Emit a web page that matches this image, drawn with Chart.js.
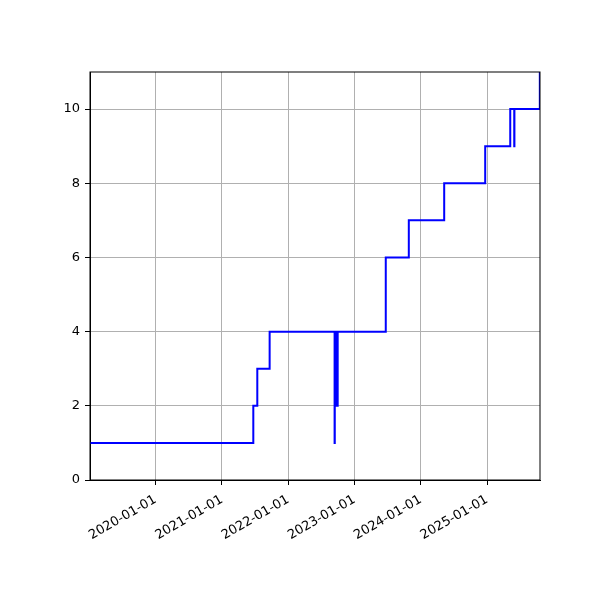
<!DOCTYPE html>
<html>
<head>
<meta charset="utf-8">
<script src="https://cdn.jsdelivr.net/npm/chart.js@4"></script>
<style>
  html, body { margin: 0; padding: 0; background: #fff; }
  #wrap { width: 600px; height: 600px; }
</style>
</head>
<body>
<div id="wrap"><canvas id="chart" width="600" height="600"></canvas></div>
<script>
// step data: date when the value starts, and the value
const stepDates = [
  "2019-01-05", "2021-06-23", "2021-07-15", "2021-09-21",
  "2022-09-14", "2022-09-15", "2022-09-17", "2022-09-19", "2022-09-21",
  "2022-09-23", "2022-09-25", "2022-09-27", "2022-09-29", "2022-10-01",
  "2023-06-23", "2023-10-28", "2024-05-10", "2024-12-22",
  "2025-05-09", "2025-05-31", "2025-06-01", "2025-10-19", "2025-10-20"
];
const stepValues = [
  1, 2, 3, 4,
  1, 4, 2, 4, 2,
  4, 2, 4, 2, 4,
  6, 7, 8, 9,
  10, 9, 10, 11, 11
];
const xTickLabels = ["2020-01-01", "2021-01-01", "2022-01-01", "2023-01-01", "2024-01-01", "2025-01-01"];
const yTickValues = [0, 2, 4, 6, 8, 10];
const xStart = "2019-01-05";
const xEnd = "2025-10-20";

const toMs = (d) => Date.parse(d + "T00:00:00Z");
const points = stepDates.map((d, i) => ({ x: toMs(d), y: stepValues[i] }));

const fmt = (v) => new Date(v).toISOString().slice(0, 10);

// full box around plot area, like matplotlib spines
const boxPlugin = {
  id: "box",
  afterDraw(chart) {
    const { ctx, chartArea: a } = chart;
    ctx.save();
    ctx.strokeStyle = "#000";
    ctx.lineWidth = 1;
    ctx.strokeRect(a.left, a.top, a.right - a.left, a.bottom - a.top);
    ctx.restore();
  },
};

const font = { family: "DejaVu Sans", size: 13 };

new Chart(document.getElementById("chart"), {
  type: "line",
  data: {
    datasets: [{
      data: points,
      borderColor: "#0000ff",
      borderWidth: 2,
      pointRadius: 0,
      stepped: true,
      fill: false,
    }],
  },
  options: {
    responsive: false,
    animation: false,
    layout: { padding: { left: 0, right: 60, top: 72, bottom: 0 } },
    plugins: { legend: { display: false }, tooltip: { enabled: false } },
    scales: {
      x: {
        type: "linear",
        min: toMs(xStart),
        max: toMs(xEnd),
        afterBuildTicks: (s) => { s.ticks = xTickLabels.map((t) => ({ value: toMs(t) })); },
        afterFit: (s) => { s.height = 120; },
        ticks: {
          color: "#000",
          font,
          padding: 7,
          minRotation: 30,
          maxRotation: 30,
          autoSkip: false,
          callback: (v) => fmt(v),
        },
        grid: { color: "#b0b0b0", lineWidth: 1, tickColor: "#000", tickLength: 5, tickWidth: 1 },
        border: { color: "#000", width: 1 },
      },
      y: {
        min: 0,
        max: 11,
        afterBuildTicks: (s) => { s.ticks = yTickValues.map((v) => ({ value: v })); },
        afterFit: (s) => { s.width = 90; },
        ticks: { color: "#000", font, padding: 5 },
        grid: { color: "#b0b0b0", lineWidth: 1, tickColor: "#000", tickLength: 5, tickWidth: 1 },
        border: { color: "#000", width: 1 },
      },
    },
  },
  plugins: [boxPlugin],
});
</script>
</body>
</html>
